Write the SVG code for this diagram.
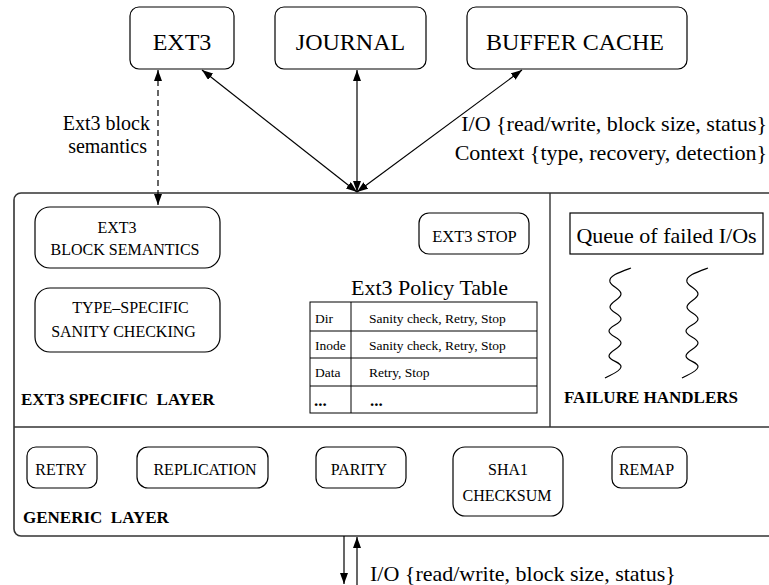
<svg xmlns="http://www.w3.org/2000/svg" width="769" height="585" viewBox="0 0 769 585">
<defs>
<marker id="ah" markerUnits="userSpaceOnUse" markerWidth="11" markerHeight="8" refX="11" refY="4" orient="auto-start-reverse">
<path d="M0,0 L11,4 L0,8 z" fill="#000"/>
</marker>
</defs>
<rect width="769" height="585" fill="#fff"/>

<g id="frame" fill="none" stroke="#333">
<rect x="14" y="193" width="800" height="343" rx="7" stroke-width="1.6"/>
<line x1="14" y1="427" x2="769" y2="427" stroke-width="1.4"/>
<line x1="550" y1="193" x2="550" y2="427" stroke-width="1.4"/>
</g>

<g id="nodes" fill="#fff" stroke="#000" stroke-width="1.2">
<rect id="ext3-box" x="130" y="7" width="104" height="62" rx="9"/>
<rect id="journal-box" x="275" y="7" width="151" height="62" rx="9"/>
<rect id="buffer-box" x="467" y="7" width="220" height="62" rx="9"/>
<rect id="ext3-sem-box" x="35" y="207" width="185" height="61" rx="15"/>
<rect id="type-spec-box" x="35" y="288" width="185" height="64" rx="15"/>
<rect id="ext3-stop-box" x="419" y="213" width="110" height="41" rx="10"/>
<rect id="queue-box" x="570" y="213" width="193" height="41"/>
<rect id="retry-box" x="27" y="447" width="70" height="41" rx="9"/>
<rect id="replication-box" x="137" y="447" width="131" height="41" rx="11"/>
<rect id="parity-box" x="316" y="447" width="90" height="41" rx="10"/>
<rect id="sha1-box" x="453" y="447" width="110" height="69" rx="12"/>
<rect id="remap-box" x="612" y="447" width="75" height="41" rx="9"/>
</g>

<g id="connectors" stroke="#000" stroke-width="1.2" fill="none">
<line x1="202" y1="70" x2="357" y2="192" marker-start="url(#ah)" marker-end="url(#ah)"/>
<line x1="357" y1="70" x2="357" y2="192" marker-start="url(#ah)" marker-end="url(#ah)"/>
<line x1="522" y1="70" x2="357" y2="192" marker-start="url(#ah)" marker-end="url(#ah)"/>
<line x1="158" y1="70" x2="158" y2="205" stroke-dasharray="6,4" marker-start="url(#ah)" marker-end="url(#ah)"/>
<line x1="344" y1="536" x2="344" y2="584" marker-end="url(#ah)"/>
<line x1="357" y1="585" x2="357" y2="537" marker-end="url(#ah)"/>
</g>

<g id="policy-table" fill="none" stroke="#000" stroke-width="1">
<rect x="310" y="302" width="227" height="111"/>
<line x1="351" y1="302" x2="351" y2="413"/>
<line x1="310" y1="331" x2="537" y2="331"/>
<line x1="310" y1="358" x2="537" y2="358"/>
<line x1="310" y1="386" x2="537" y2="386"/>
</g>

<g id="squiggles" fill="none" stroke="#000" stroke-width="1.2">
<path d="M631,268 C620,272 608,276 610,282 C612,287 621,289 621,294 C621,299 610,302 610,307 C610,312 621,314 621,319 C621,324 609,326 609,331 C609,336 621,338 621,343 C621,348 609,351 609,356 C609,361 622,362 621,367 C620,372 610,375 605,378"/>
<path transform="translate(77,0)" d="M631,268 C620,272 608,276 610,282 C612,287 621,289 621,294 C621,299 610,302 610,307 C610,312 621,314 621,319 C621,324 609,326 609,331 C609,336 621,338 621,343 C621,348 609,351 609,356 C609,361 622,362 621,367 C620,372 610,375 605,378"/>
</g>

<g id="texts" fill="#000">
<text font-family="Liberation Serif" font-size="24" x="182" y="50" text-anchor="middle">EXT3</text>
<text font-family="Liberation Serif" font-size="24" x="350.5" y="50" text-anchor="middle">JOURNAL</text>
<text font-family="Liberation Serif" font-size="24" x="575" y="50" text-anchor="middle">BUFFER CACHE</text>
<text font-family="Liberation Serif" font-size="20" x="150" y="130" text-anchor="end">Ext3 block</text>
<text font-family="Liberation Serif" font-size="20" x="147" y="153" text-anchor="end">semantics</text>
<text font-family="Liberation Serif" font-size="22" x="767" y="131" text-anchor="end">I/O {read/write, block size, status}</text>
<text font-family="Liberation Serif" font-size="22" x="767" y="160" text-anchor="end">Context {type, recovery, detection}</text>
<text font-family="Liberation Serif" font-size="22" x="370" y="581">I/O {read/write, block size, status}</text>
<text font-family="Liberation Serif" font-size="16" x="117" y="233" text-anchor="middle">EXT3</text>
<text font-family="Liberation Serif" font-size="16" x="125" y="255" text-anchor="middle">BLOCK SEMANTICS</text>
<text font-family="Liberation Serif" font-size="16" x="130.5" y="313" text-anchor="middle">TYPE–SPECIFIC</text>
<text font-family="Liberation Serif" font-size="16" x="123.5" y="337" text-anchor="middle">SANITY CHECKING</text>
<text font-family="Liberation Serif" font-size="16.5" x="474.5" y="242" text-anchor="middle">EXT3 STOP</text>
<text font-family="Liberation Serif" font-size="22" x="429.5" y="295" text-anchor="middle">Ext3 Policy Table</text>
<text font-family="Liberation Serif" font-size="13.5" x="315" y="323">Dir</text>
<text font-family="Liberation Serif" font-size="13.5" x="369" y="323">Sanity check, Retry, Stop</text>
<text font-family="Liberation Serif" font-size="13.5" x="315" y="350">Inode</text>
<text font-family="Liberation Serif" font-size="13.5" x="369" y="350">Sanity check, Retry, Stop</text>
<text font-family="Liberation Serif" font-size="13.5" x="315" y="377">Data</text>
<text font-family="Liberation Serif" font-size="13.5" x="369" y="377">Retry, Stop</text>
<text font-family="Liberation Serif" x="314" y="406" font-weight="bold" font-size="17">...</text>
<text font-family="Liberation Serif" x="370" y="406" font-weight="bold" font-size="17">...</text>
<text font-family="Liberation Serif" font-weight="bold" font-size="17" x="21" y="405" xml:space="preserve">EXT3 SPECIFIC  LAYER</text>
<text font-family="Liberation Serif" font-size="22" x="666.5" y="243" text-anchor="middle">Queue of failed I/Os</text>
<text font-family="Liberation Serif" font-weight="bold" font-size="17" x="564" y="403">FAILURE HANDLERS</text>
<text font-family="Liberation Serif" font-size="16" x="61" y="475" text-anchor="middle">RETRY</text>
<text font-family="Liberation Serif" font-size="16" x="205" y="475" text-anchor="middle">REPLICATION</text>
<text font-family="Liberation Serif" font-size="16" x="359" y="475" text-anchor="middle">PARITY</text>
<text font-family="Liberation Serif" font-size="16" x="508" y="475" text-anchor="middle">SHA1</text>
<text font-family="Liberation Serif" font-size="16" x="507" y="501" text-anchor="middle">CHECKSUM</text>
<text font-family="Liberation Serif" font-size="16" x="646.5" y="475" text-anchor="middle">REMAP</text>
<text font-family="Liberation Serif" font-weight="bold" font-size="17" x="23" y="523" xml:space="preserve">GENERIC  LAYER</text>
</g>
</svg>
